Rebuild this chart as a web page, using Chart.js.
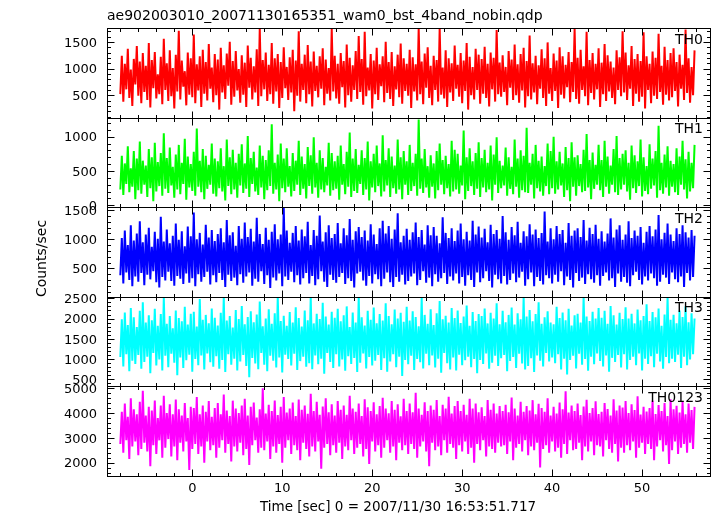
<!DOCTYPE html>
<html>
<head>
<meta charset="utf-8">
<script src="https://cdn.jsdelivr.net/npm/chart.js@4/dist/chart.umd.min.js"></script>
<style>
  body { margin: 0; background: #fff; }
  #wrap { width: 717px; height: 516px; }
</style>
</head>
<body>
<div id="wrap"><canvas id="myChart" width="717" height="516"></canvas></div>
<script>
'use strict';

// light curve, 1/6 s bins starting at t = -8 s
const tStart = -8;
const tStep = 1 / 6;

const th0 = [
  520,1240,380,1090,610,1370,450,980,300,1180,700,1420,490,1130,350,1290,
  560,1050,410,1480,270,1160,630,1310,440,890,520,1220,330,1560,600,1100,
  390,1340,480,1010,250,1260,570,1710,420,1150,660,950,310,1300,510,1190,
  460,1640,350,1080,590,1230,280,1350,530,1120,400,1460,620,1020,370,1270,
  500,1170,230,1390,550,1060,430,1280,680,1500,320,1140,470,1330,590,990,
  360,1250,510,1110,280,1430,640,1200,420,1040,550,1360,300,1750,480,1160,
  610,1300,390,1070,520,1480,340,1190,570,1270,260,1120,450,1400,630,1030,
  410,1210,550,1350,200,1150,490,1700,380,1090,600,1260,350,1440,520,1130,
  290,1320,580,1050,460,1230,620,1380,310,1170,530,1010,400,1740,570,1240,
  440,1090,340,1290,650,1140,270,1450,500,1200,380,1060,600,1330,430,1610,
  560,1180,320,1690,480,1020,590,1270,250,1150,520,1390,410,1080,670,1230,
  370,1500,540,1120,430,1310,300,1040,610,1260,460,1470,340,1190,580,1090,
  490,1350,260,1210,570,1080,400,1760,520,1130,330,1280,640,1400,450,1050,
  310,1240,600,1160,380,1760,510,1020,440,1340,280,1190,550,1100,390,1430,
  620,1070,470,1290,350,1150,580,1480,230,1220,500,1030,420,1370,600,1260,
  340,1180,530,1410,450,1090,290,1300,610,1200,380,1720,520,1110,470,1250,
  560,1030,310,1330,640,1170,410,1450,500,1080,360,1270,590,1390,270,1140,
  480,1620,420,1100,550,1240,330,1060,620,1360,450,1190,300,1490,530,1010,
  390,1280,580,1150,260,1400,510,1230,440,1070,650,1310,370,1120,560,1740,
  430,1200,340,1350,600,1040,480,1690,310,1160,540,1290,420,1090,610,1380,
  280,1110,520,1460,390,1250,570,1130,450,1020,330,1340,600,1210,480,1700,
  550,1300,410,1060,620,1420,300,1180,530,1270,380,1140,470,1680,250,1230,
  600,1090,350,1320,490,1200,430,1650,560,1050,320,1410,510,1160,400,1290,
  460,1380,580,1120,290,1260,620,1070,410,1730,540,1190,360,1030,500,1340
];

const th1 = [
  230,720,150,610,310,860,190,540,270,790,90,680,220,930,170,650,
  300,580,120,820,250,700,60,910,200,630,280,760,140,1050,240,690,
  180,840,290,560,110,740,230,880,160,620,310,970,80,710,260,600,
  210,780,140,1120,270,650,190,820,90,720,240,590,300,900,170,680,
  130,640,250,830,200,570,70,960,280,700,160,810,230,620,110,750,
  290,890,180,610,240,1010,120,690,310,780,200,550,150,870,260,720,
  90,660,220,800,280,1180,170,620,230,740,60,900,250,680,190,830,
  270,570,130,760,210,650,300,940,150,710,240,600,100,850,280,730,
  170,990,260,620,110,800,230,690,190,560,290,910,140,760,220,640,
  240,720,80,870,300,600,160,780,270,1060,120,680,210,820,180,590,
  310,800,150,690,230,930,70,640,260,750,190,870,280,610,130,1020,
  200,660,290,830,120,710,250,580,170,960,230,700,90,790,300,640,
  150,880,210,620,280,750,140,1250,240,680,180,820,260,570,110,730,
  270,610,100,790,220,900,300,660,160,720,250,600,130,940,200,810,
  230,750,170,580,290,1090,90,700,210,830,280,640,150,760,240,920,
  120,690,260,810,190,620,230,870,70,740,300,990,180,650,250,580,
  290,840,140,700,240,560,160,960,270,680,110,800,220,720,190,1130,
  180,620,300,750,100,880,250,650,200,710,140,570,280,900,160,790,
  250,1000,170,640,230,780,290,610,120,850,220,690,60,920,270,700,
  140,730,280,600,190,810,210,1040,260,660,90,770,240,590,300,880,
  220,660,120,940,270,710,170,580,300,820,190,1010,150,690,230,750,
  300,800,200,620,80,870,250,730,180,640,280,960,130,700,210,570,
  160,890,240,680,290,790,110,1160,220,620,170,740,260,860,140,650,
  270,600,190,830,150,710,300,940,230,670,100,780,200,620,250,880
];

const th2 = [
  380,1020,240,1150,430,900,300,1240,190,980,360,1100,270,1310,420,950,
  210,1080,390,1200,310,870,450,1130,260,1010,170,1390,350,960,290,1170,
  440,930,280,1060,200,1270,370,990,320,1140,230,880,410,1220,250,1050,
  330,1460,190,1000,400,1110,270,910,350,1250,440,1030,220,1160,380,970,
  260,1090,420,1190,300,950,180,1330,390,1070,280,1120,340,890,210,1230,
  400,1010,250,1290,360,1040,430,1180,200,960,320,1370,270,1090,450,920,
  230,1200,380,990,160,1130,340,1260,290,1000,410,1080,190,1540,360,1150,
  300,940,440,1110,260,1230,380,980,220,1170,330,1050,420,1300,240,900,
  370,1160,210,1060,310,1410,450,960,270,1120,180,1240,390,1020,300,1090,
  250,1280,350,930,420,1190,230,1070,330,1350,280,990,170,1140,410,1210,
  440,1040,290,1150,200,980,370,1260,240,1080,400,920,310,1190,190,1320,
  320,1100,430,1230,260,1010,180,1170,350,1450,270,950,390,1060,220,1180,
  280,990,360,1120,410,1290,210,1040,300,1160,450,910,250,1240,340,1070,
  190,1210,400,1060,270,930,330,1380,420,1110,230,1020,360,1190,290,970,
  410,1150,240,1270,350,1000,200,1130,380,980,300,1320,180,1080,430,1220,
  260,1030,330,1180,450,950,280,1250,170,1090,390,1160,310,1010,240,1400,
  370,1120,220,990,300,1210,410,1070,260,1300,340,940,440,1140,200,1050,
  310,1260,430,1080,190,1170,350,1020,280,1110,220,1480,380,960,330,1190,
  240,1000,390,1230,270,1090,450,1160,210,940,360,1280,300,1060,170,1150,
  420,1190,280,1040,340,1330,230,980,400,1200,310,1090,250,1250,380,1010,
  200,1140,370,960,430,1100,290,1360,330,1030,180,1170,410,1240,270,990,
  350,1080,250,1310,190,1020,380,1150,440,1060,300,1210,220,940,360,1130,
  290,1230,410,1050,330,1170,200,1420,270,1000,390,1110,340,1270,230,1080,
  430,970,310,1190,260,1090,360,1240,180,1120,420,1030,290,1160,350,1060
];

const th3 = [
  1050,1980,820,2150,1120,1840,700,2260,960,2030,880,1790,1100,2190,760,2400,
  930,1900,1060,2080,650,1960,1150,2240,840,1820,990,2110,720,2520,1080,1870,
  800,2060,1130,1760,910,2200,600,2010,1040,1930,780,2290,970,1850,1110,2120,
  690,2170,1000,1800,850,2480,1090,1970,740,2090,1140,1880,920,2250,810,2020,
  1070,1830,760,2140,980,2530,680,1950,1120,2060,860,1780,1010,2210,720,1990,
  940,2310,1100,1860,830,2040,550,2180,1030,1910,890,2100,750,2420,1150,1810,
  860,2000,700,2230,1080,1870,960,2130,790,2540,1040,1940,670,2070,1110,1820,
  1000,2160,840,1900,1130,2280,730,2010,950,1800,1060,2200,810,1960,900,2540,
  750,1880,1090,2120,870,1990,1010,2390,640,2050,1150,1850,930,2170,780,2020,
  1120,2240,820,1930,990,2080,710,2300,1070,1790,880,2150,1030,1900,680,2540,
  910,2030,1140,1830,770,2190,1050,1970,840,2270,960,1880,1100,2110,730,1950,
  1020,2380,690,2060,940,1860,1120,2220,800,2000,1060,2140,580,1920,980,2290,
  870,1950,1080,2180,730,2040,1000,1810,920,2510,770,2090,1130,1870,850,2230,
  1090,1840,790,2130,1010,2430,660,1980,1150,2070,900,1900,740,2260,1040,2010,
  720,2200,1110,1890,850,2050,970,2320,1060,1820,800,2160,1000,1940,650,2110,
  980,2060,880,2250,1140,1880,760,2140,910,2000,1080,2380,830,1860,1020,2190,
  1100,1910,700,2090,950,2270,1050,1850,780,2130,1130,1980,890,2540,740,2050,
  830,2210,1020,1930,680,2110,1090,2400,960,1870,820,2030,1150,2180,940,1900,
  1040,1860,900,2290,1120,2010,740,2150,1010,1960,620,2240,980,1830,1080,2080,
  770,2120,1130,1900,860,2540,1000,2050,710,1940,1060,2170,870,2000,1140,2260,
  950,2020,820,2190,1090,1870,690,2310,1030,2080,930,1850,1100,2140,790,1990,
  1120,2280,740,2000,980,2120,1060,1880,850,2220,1140,1960,720,2060,1010,2350,
  880,1940,1070,2160,800,2030,1130,2250,940,1820,760,2100,1050,2530,900,1970,
  1010,2090,930,1880,1110,2200,780,2040,1060,2300,850,1910,990,2130,1120,2000
];

const th0123 = [
  2750,4050,2400,4380,2900,3850,2150,4600,2650,4150,2850,3950,2300,4450,2550,4900,
  2800,3900,2450,4250,1850,4100,2700,4500,2350,3800,2900,4300,2200,4700,2600,4000,
  2950,4350,2250,3950,2650,4550,2100,4150,2800,3900,2450,4400,2850,3800,1700,4250,
  2550,4200,2750,4650,2350,3950,2650,4300,2000,4050,2850,4480,2500,3850,2700,4200,
  2200,4400,2600,3950,2900,4750,2400,4100,2750,3880,2050,4500,2650,4180,2450,4000,
  2800,4300,2300,4580,2550,3900,1900,4250,2700,4420,2900,3820,2400,4150,2600,5000,
  2500,3980,2850,4330,2150,4080,2650,4500,2400,3920,2750,4250,2000,4650,2600,4020,
  2900,4180,2350,4420,2700,3880,2500,4550,2100,4130,2800,4300,2550,3970,2250,4780,
  2650,4080,2450,4450,2850,3930,1750,4260,2600,4600,2750,4030,2300,4350,2700,3900,
  2400,4480,2800,4130,2150,4300,2650,3930,2500,4700,2900,4180,2350,4050,2600,4380,
  2750,3880,2250,4560,2550,4230,1950,4080,2850,4430,2450,3950,2700,4280,2200,4620,
  2600,4180,2900,3990,2400,4480,2650,4130,2100,4350,2800,3870,2500,4580,2700,4080,
  2350,4380,2750,4030,2550,4820,2200,4180,2650,3930,2850,4430,2450,4080,1850,4300,
  2800,4130,2500,4530,2650,3880,2300,4330,2900,4180,2400,4660,2750,3980,2600,4280,
  2150,4480,2700,4080,2450,4330,2850,3930,2350,4580,2600,4180,2000,4380,2750,4030,
  2500,4230,2900,3880,2250,4530,2650,4130,2550,4380,2400,3980,2800,4280,2650,4080,
  2700,4330,2350,4030,2850,4630,2100,4180,2600,3900,2750,4450,2450,4050,2900,4280,
  2300,4100,2650,4520,2500,3950,2800,4370,1800,4200,2550,4050,2700,4600,2400,3900,
  2850,4250,2450,3980,2600,4420,2200,4150,2750,4880,2350,4020,2900,4300,2500,4080,
  2550,4380,2800,3920,2100,4260,2650,4540,2450,4000,2850,4200,2300,4470,2700,3960,
  2650,4050,2250,4400,2900,4160,2550,3900,2400,4560,2750,4100,2050,4300,2600,4220,
  2400,4480,2700,4000,2500,4350,2850,4120,2200,4680,2600,3940,2800,4250,2350,4060,
  2750,4200,2550,4500,2100,3960,2650,4320,2900,4080,2450,4400,2700,3880,1950,4560,
  2500,4150,2850,4290,2350,4020,2600,4450,2750,3950,2400,4380,2800,4120,2550,4250
];

const panelNames = ['TH0', 'TH1', 'TH2', 'TH3', 'TH0123'];
const panelSeries = [th0, th1, th2, th3, th0123];
const panelColors = ['#ff0000', '#00ff00', '#0000ff', '#00ffff', '#ff00ff'];
const yMins = [80, -28, 9, 325, 1460];
const yMaxs = [1760, 1278, 1553, 2537, 5075];
const yTickLabels = [
  [500, 1000, 1500],
  [0, 500, 1000],
  [500, 1000, 1500],
  [500, 1000, 1500, 2000, 2500],
  [2000, 3000, 4000, 5000]
];
const yMinorSteps = [100, 100, 100, 100, 200];
const xTickLabels = [0, 10, 20, 30, 40, 50];
const xMin = -9.48;
const xMax = 57.55;
const xMinorStep = 2;

const chartTitle = 'ae902003010_20071130165351_wam0_bst_4band_nobin.qdp';
const xTitle = 'Time [sec] 0 = 2007/11/30 16:53:51.717';
const yTitle = 'Counts/sec';

Chart.defaults.font.family = "'DejaVu Sans', sans-serif";
Chart.defaults.color = '#000';

let datasets = [];
let scales = {
  x: {
    type: 'linear',
    position: 'bottom',
    min: xMin,
    max: xMax,
    grid: { display: false, drawTicks: false },
    border: { display: false },
    ticks: { font: { size: 13 }, padding: 5, maxRotation: 0, autoSkip: false, callback: v => String(v) },
    afterBuildTicks: function (scale) {
      scale.ticks = xTickLabels.map(v => ({ value: v }));
    },
    afterFit: function (scale) {
      scale.height = 40;
    }
  }
};

for (let i = 0; i < panelNames.length; i++) {
  let id = 'y' + i;
  datasets.push({
    label: panelNames[i],
    data: panelSeries[i].map((v, k) => ({ x: tStart + k * tStep, y: v })),
    yAxisID: id,
    borderColor: panelColors[i],
    borderWidth: 2,
    pointRadius: 0,
    tension: 0,
    fill: false
  });
  scales[id] = {
    type: 'linear',
    position: 'left',
    stack: 'panels',
    stackWeight: 1,
    weight: 10 - i,
    min: yMins[i],
    max: yMaxs[i],
    grid: { display: false, drawTicks: false },
    border: { display: false },
    // labels are painted by qdpFrame so that overlapping ones all show
    ticks: { display: false },
    afterBuildTicks: function (scale) {
      scale.ticks = yTickLabels[i].map(v => ({ value: v }));
    },
    afterFit: function (scale) {
      scale.width = 107;
    }
  };
}

// keep each curve inside its own panel
const panelClip = {
  id: 'panelClip',
  beforeDatasetDraw(chart, args) {
    const ys = args.meta.yScale;
    const ctx = chart.ctx;
    ctx.save();
    ctx.beginPath();
    ctx.rect(chart.chartArea.left, ys.top, chart.chartArea.right - chart.chartArea.left, ys.bottom - ys.top);
    ctx.clip();
  },
  afterDatasetDraw(chart) {
    chart.ctx.restore();
  }
};

// frames, inward ticks, labels
const qdpFrame = {
  id: 'qdpFrame',
  afterDraw(chart) {
    const ctx = chart.ctx;
    const area = chart.chartArea;
    const xs = chart.scales.x;
    ctx.save();
    ctx.strokeStyle = '#000';
    ctx.lineWidth = 1;
    for (let i = 0; i < panelNames.length; i++) {
      const ys = chart.scales['y' + i];
      const top = Math.round(ys.top) + 0.5;
      const bottom = Math.round(ys.bottom) + 0.5;
      const left = Math.round(area.left) + 0.5;
      const right = Math.round(area.right) + 0.5;
      ctx.strokeRect(left, top, right - left, bottom - top);
      ctx.beginPath();
      // y ticks
      const step = yMinorSteps[i];
      for (let v = Math.ceil(yMins[i] / step) * step; v <= yMaxs[i]; v += step) {
        const y = Math.round(ys.getPixelForValue(v)) + 0.5;
        const len = yTickLabels[i].includes(v) ? 7 : 3.5;
        ctx.moveTo(left, y); ctx.lineTo(left + len, y);
        ctx.moveTo(right, y); ctx.lineTo(right - len, y);
      }
      // x ticks
      for (let v = Math.ceil(xMin / xMinorStep) * xMinorStep; v <= xMax; v += xMinorStep) {
        const x = Math.round(xs.getPixelForValue(v)) + 0.5;
        const len = v % 10 === 0 ? 7 : 3.5;
        ctx.moveTo(x, top); ctx.lineTo(x, top + len);
        ctx.moveTo(x, bottom); ctx.lineTo(x, bottom - len);
      }
      ctx.stroke();
      ctx.fillStyle = '#000';
      ctx.font = "14px 'DejaVu Sans'";
      ctx.textAlign = 'right';
      ctx.textBaseline = 'alphabetic';
      ctx.fillText(panelNames[i], 703, ys.top + 15.5);
    }
    // y tick labels, bottom panel first
    ctx.font = "13px 'DejaVu Sans'";
    ctx.textAlign = 'right';
    ctx.textBaseline = 'alphabetic';
    for (let i = panelNames.length - 1; i >= 0; i--) {
      const ys = chart.scales['y' + i];
      yTickLabels[i].forEach(v => {
        ctx.fillText(String(v), 97, ys.getPixelForValue(v) + 4.7);
      });
    }
    ctx.font = "14px 'DejaVu Sans'";
    ctx.textAlign = 'left';
    ctx.fillText(chartTitle, 107, 19.5);
    ctx.font = "13.5px 'DejaVu Sans'";
    ctx.textAlign = 'center';
    ctx.fillText(xTitle, 398, 510.5);
    ctx.translate(45.5, 258.5);
    ctx.rotate(-Math.PI / 2);
    ctx.font = "14px 'DejaVu Sans'";
    ctx.fillText(yTitle, 0, 0);
    ctx.restore();
  }
};

let ctx = document.getElementById('myChart').getContext('2d');
let myChart = new Chart(ctx, {
  type: 'line',
  data: { datasets: datasets },
  options: {
    responsive: false,
    animation: false,
    layout: { padding: { left: 0, right: 7, top: 28, bottom: 0 } },
    plugins: {
      legend: { display: false },
      tooltip: { enabled: false }
    },
    scales: scales
  },
  plugins: [panelClip, qdpFrame]
});
</script>
</body>
</html>
